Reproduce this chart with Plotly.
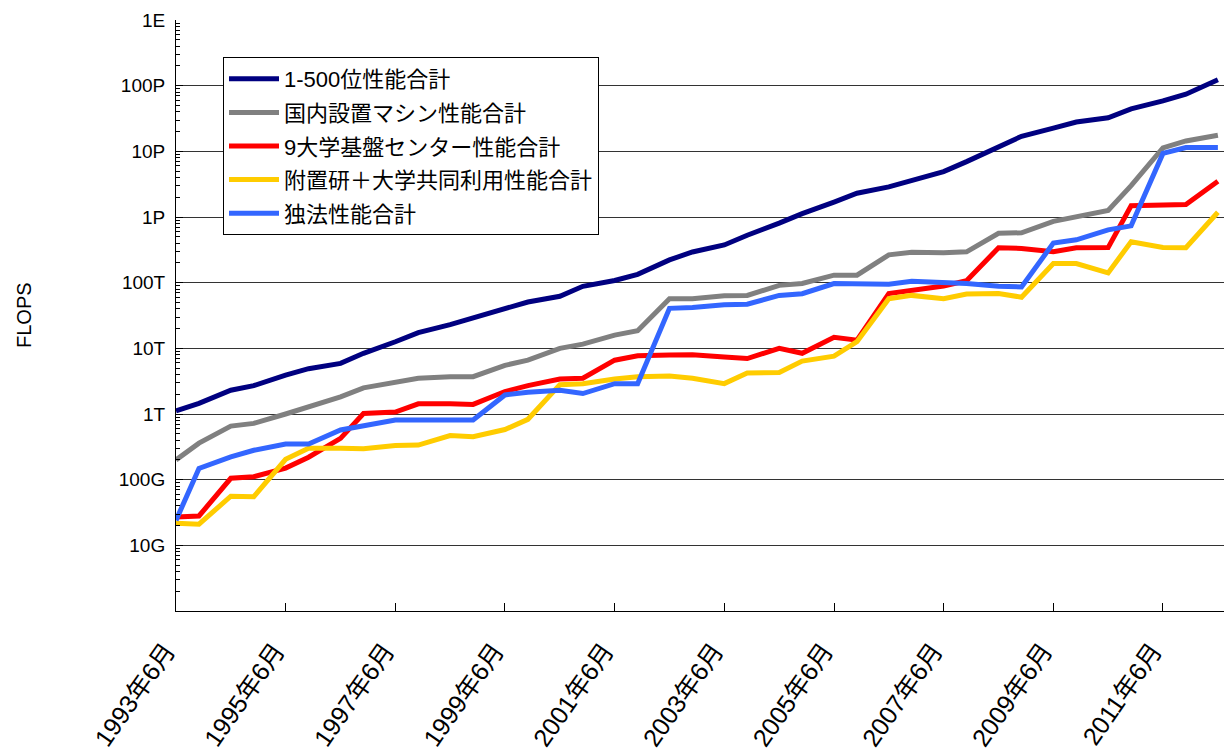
import plotly.graph_objects as go

# Survey dates (June / November lists)
dates = [
    "1993-06-01", "1993-11-01", "1994-06-01", "1994-11-01", "1995-06-01", "1995-11-01",
    "1996-06-01", "1996-11-01", "1997-06-01", "1997-11-01", "1998-06-01", "1998-11-01",
    "1999-06-01", "1999-11-01", "2000-06-01", "2000-11-01", "2001-06-01", "2001-11-01",
    "2002-06-01", "2002-11-01", "2003-06-01", "2003-11-01", "2004-06-01", "2004-11-01",
    "2005-06-01", "2005-11-01", "2006-06-01", "2006-11-01", "2007-06-01", "2007-11-01",
    "2008-06-01", "2008-11-01", "2009-06-01", "2009-11-01", "2010-06-01", "2010-11-01",
    "2011-06-01", "2011-11-01", "2012-06-01",
]

# Values in TFLOPS
top500_total = [
    1.12, 1.45, 2.3, 2.7, 3.9, 4.9, 5.9, 8.4, 12.6, 17.3, 23, 29,
    38.6, 50.8, 62, 88, 108, 134, 222, 293, 375, 528, 806, 1127,
    1690, 2300, 2870, 3540, 4920, 6970, 11700, 16950, 22600, 27950, 32400, 44200,
    58500, 74200, 123000,
]
domestic_total = [
    0.20, 0.36, 0.655, 0.72, 1.0, 1.29, 1.82, 2.5, 3.0, 3.5, 3.7, 3.7,
    5.5, 6.6, 10, 11.6, 15.9, 18.5, 57, 57, 63, 64, 91, 97,
    130, 130, 265, 290, 285, 295, 565, 575, 860, 1000, 1260, 3000,
    11300, 14400, 17600,
]
univ9_total = [
    0.027, 0.028, 0.105, 0.111, 0.15, 0.22, 0.425, 1.02, 1.07, 1.43, 1.43, 1.40,
    2.2, 2.7, 3.4, 3.5, 6.6, 7.7, 7.9, 8.0, 7.4, 7.0, 10, 8.4,
    14.7, 13.3, 68.5, 77, 89, 107, 340, 332, 295, 340, 342, 1480,
    1540, 1550, 3500,
]
institute_total = [
    0.0216, 0.021, 0.056, 0.055, 0.204, 0.30, 0.30, 0.295, 0.33, 0.336, 0.47, 0.45,
    0.58, 0.83, 2.8, 2.9, 3.4, 3.7, 3.8, 3.5, 2.9, 4.2, 4.3, 6.4,
    7.6, 12.6, 57, 64, 57, 67, 68.6, 60, 196, 196, 141, 420,
    343, 340, 1180,
]
agency_total = [
    0.024, 0.148, 0.222, 0.28, 0.348, 0.348, 0.57, 0.655, 0.81, 0.81, 0.82, 0.81,
    1.95, 2.15, 2.3, 2.05, 2.9, 2.9, 40.6, 42, 46, 47, 64, 68,
    97, 97, 95, 105, 102, 97, 88, 86, 400, 450, 636, 733,
    9300, 11400, 11400,
]

series_names = [
    "1-500位性能合計",
    "国内設置マシン性能合計",
    "9大学基盤センター性能合計",
    "附置研＋大学共同利用性能合計",
    "独法性能合計",
]
series_colors = ["#000080", "#808080", "#FF0000", "#FFCC00", "#3366FF"]

x_tick_dates = [
    "1993-06-01", "1995-06-01", "1997-06-01", "1999-06-01", "2001-06-01",
    "2003-06-01", "2005-06-01", "2007-06-01", "2009-06-01", "2011-06-01",
]
x_tick_labels = [
    "1993年6月", "1995年6月", "1997年6月", "1999年6月", "2001年6月",
    "2003年6月", "2005年6月", "2007年6月", "2009年6月", "2011年6月",
]
y_tick_vals = [0.01, 0.1, 1, 10, 100, 1000, 10000, 100000, 1000000]
y_tick_labels = ["10G", "100G", "1T", "10T", "100T", "1P", "10P", "100P", "1E"]

FONT = "Liberation Sans, Arial, Noto Sans CJK JP, sans-serif"

fig = go.Figure()
all_series = [top500_total, domestic_total, univ9_total, institute_total, agency_total]
for i, (name, vals, col) in enumerate(zip(series_names, all_series, series_colors)):
    fig.add_trace(go.Scatter(
        x=dates, y=vals, name=name, mode="lines",
        line=dict(color=col, width=5),
        legendgroup=f"g{i}",
    ))

minor_vals = [m * 10 ** e for e in range(-3, 6) for m in range(2, 10)]

# page body has an 8px offset; plot area targeted at x 176-1232, y 20-611
PL, PR, PT, PB = 176, 1232, 20, 611
PW, PH = PR - PL, PB - PT

fig.update_layout(
    width=1232, height=755,
    margin=dict(l=168, r=8, t=12, b=152),
    paper_bgcolor="white", plot_bgcolor="white",
    font=dict(family=FONT, size=19, color="black"),
    showlegend=True,
    legend=dict(
        x=(223 - PL) / PW, y=(PB - 57) / PH, xanchor="left", yanchor="top",
        bgcolor="white", bordercolor="black", borderwidth=1,
        font=dict(family=FONT, size=22, color="black"),
        tracegroupgap=2, itemwidth=50, entrywidth=387,
    ),
    xaxis=dict(
        type="date",
        range=["1993-06-01", "2012-09-03"],
        tickmode="array", tickvals=x_tick_dates, ticktext=x_tick_labels,
        tickangle=-55,
        ticks="inside", ticklen=8, tickcolor="black",
        showline=True, linecolor="black", linewidth=1,
        showgrid=False, zeroline=False,
        tickfont=dict(family=FONT, size=25),
        ticklabelstandoff=14,
        ticklabelshift=-10,
        automargin=False,
    ),
    yaxis=dict(
        type="log",
        range=[-3, 6],
        tickmode="array", tickvals=y_tick_vals, ticktext=y_tick_labels,
        ticks="inside", ticklen=7, tickcolor="black",
        minor=dict(tickmode="array", tickvals=minor_vals, ticks="inside",
                   ticklen=4, tickcolor="black", showgrid=False),
        showline=True, linecolor="black", linewidth=1,
        showgrid=True, gridcolor="#333333", gridwidth=1,
        zeroline=False,
        tickfont=dict(family=FONT, size=19),
        ticklabelstandoff=6,
        automargin=False,
    ),
    annotations=[dict(
        text="FLOPS", xref="paper", yref="paper",
        x=(24 - PL) / PW, y=(PB - 315) / PH, xanchor="center", yanchor="middle",
        textangle=-90, showarrow=False,
        font=dict(family=FONT, size=20, color="black"),
    )],
)

fig.write_html("out.html")
